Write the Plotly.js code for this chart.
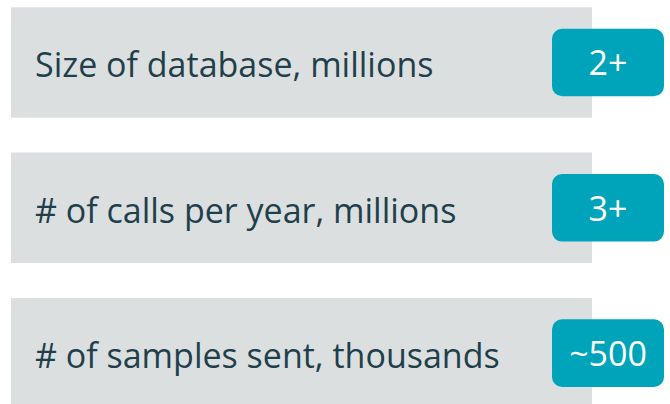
<!DOCTYPE html>
<html>
<head>
<meta charset="utf-8">
<script src="https://cdn.plot.ly/plotly-3.0.1.min.js"></script>
<style>
html,body{margin:0;padding:0;background:#fff;}
#chart{width:670px;height:404px;}
</style>
</head>
<body>
<div id="chart"></div>
<script>
// Data
const metrics = ["Size of database, millions", "# of calls per year, millions", "# of samples sent, thousands"];
const values = ["2+", "3+", "~500"];
const rowIndex = [0, 1, 2];

// Styling constants (geometry in axis units)
const panelStart = 11, panelLength = 581;
const badgeStart = 552, badgeLength = 112;
const textColor = "#1f3f4a";
const panelColor = "#dcdfe0";
const badgeColor = "#00a4ba";
const fontFamily = "'Open Sans', 'Noto Sans', sans-serif";

const panels = {
  type: "bar",
  orientation: "h",
  y: rowIndex,
  x: rowIndex.map(() => panelLength),
  base: panelStart,
  width: 0.76,
  marker: {color: panelColor, line: {width: 0}},
  hoverinfo: "skip",
  showlegend: false
};

const badges = {
  type: "bar",
  orientation: "h",
  y: rowIndex,
  x: rowIndex.map(() => badgeLength),
  base: badgeStart,
  width: 0.465,
  marker: {color: badgeColor, line: {width: 0}, cornerradius: 10},
  text: values,
  textposition: "inside",
  insidetextanchor: "middle",
  constraintext: "none",
  textfont: {color: "#ffffff", size: 34, family: fontFamily},
  hoverinfo: "skip",
  showlegend: false
};

const annotations = metrics.map((m, i) => ({
  x: 33, y: rowIndex[i], xref: "x", yref: "y", yshift: -2,
  text: m, showarrow: false, xanchor: "left", yanchor: "middle",
  font: {size: 34, color: textColor, family: fontFamily}
}));

const layout = {
  width: 670, height: 404,
  margin: {l: 0, r: 0, t: 0, b: 0, pad: 0},
  paper_bgcolor: "#ffffff",
  plot_bgcolor: "#ffffff",
  barmode: "overlay",
  xaxis: {range: [0, 670], visible: false, fixedrange: true},
  yaxis: {range: [2.35, -0.43], visible: false, fixedrange: true},
  annotations: annotations,
  showlegend: false
};

Plotly.newPlot("chart", [panels, badges], layout, {staticPlot: true, displayModeBar: false});
</script>
</body>
</html>
